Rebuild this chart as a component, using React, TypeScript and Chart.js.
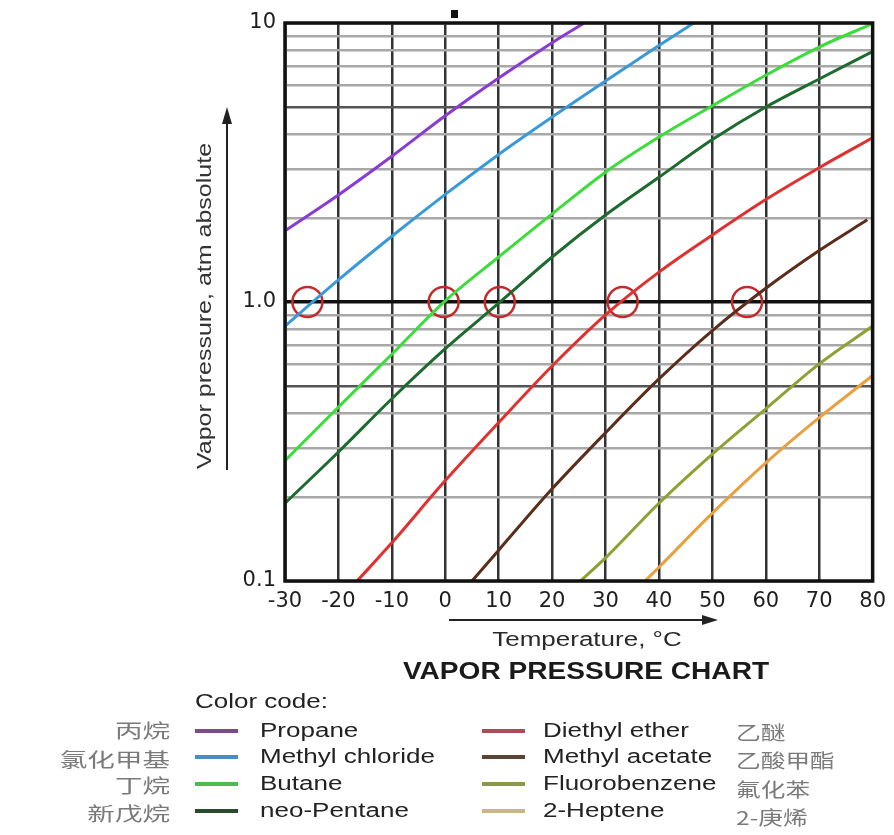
import React, { useEffect, useRef } from 'react';
import { Chart, registerables } from 'chart.js';

Chart.register(...registerables);

const W = 894;
const H = 835;

// ---------- data ----------
const seriesNames = ['Propane', 'Methyl chloride', 'Butane', 'neo-Pentane', 'Diethyl ether', 'Methyl acetate', 'Fluorobenzene', '2-Heptene'];
const seriesNamesZh = ['丙烷', '氯化甲基', '丁烷', '新戊烷', '乙醚', '乙酸甲酯', '氟化苯', '2-庚烯'];
const seriesColors = ['#8a3cd0', '#3a9ad9', '#3ddc3d', '#1d6b2e', '#e03030', '#5a2e1a', '#8fa035', '#e8a040'];
const legendColors = ['#7d4a8e', '#4d8dbd', '#4cbb4c', '#2c4a2c', '#b04a5a', '#5c4433', '#8a9a48', '#c8b888'];

const propaneT = [-30, -20, -10, 0, 10, 20, 26];
const propaneP = [1.8, 2.42, 3.33, 4.65, 6.35, 8.5, 10];
const methylChlorideT = [-30, -20, -10, 0, 10, 20, 30, 40, 46.5];
const methylChlorideP = [0.82, 1.2, 1.72, 2.43, 3.38, 4.6, 6.2, 8.3, 10];
const butaneT = [-30, -20, -10, 0, 10, 20, 30, 40, 50, 60, 70, 80];
const butaneP = [0.27, 0.42, 0.65, 1.01, 1.45, 2.07, 2.92, 3.9, 5.05, 6.5, 8.2, 9.95];
const neoPentaneT = [-30, -20, -10, 0, 10, 20, 30, 40, 50, 60, 70, 80];
const neoPentaneP = [0.19, 0.29, 0.45, 0.68, 0.99, 1.45, 2.05, 2.8, 3.82, 5.0, 6.3, 7.9];
const diethylEtherT = [-16.5, -10, 0, 10, 20, 30, 40, 50, 60, 70, 80];
const diethylEtherP = [0.1, 0.137, 0.229, 0.37, 0.59, 0.9, 1.28, 1.74, 2.33, 3.03, 3.88];
const methylAcetateT = [5, 10, 20, 30, 40, 50, 60, 70, 79];
const methylAcetateP = [0.1, 0.129, 0.214, 0.34, 0.53, 0.79, 1.12, 1.53, 1.97];
const fluorobenzeneT = [25.3, 30, 40, 50, 60, 70, 80];
const fluorobenzeneP = [0.1, 0.121, 0.19, 0.285, 0.414, 0.6, 0.82];
const heptene2T = [37.4, 40, 50, 60, 70, 80];
const heptene2P = [0.1, 0.112, 0.175, 0.265, 0.385, 0.545];

const boilingT = [-25.8, -0.3, 10.2, 33.2, 56.5];
const boilingP = [1, 1, 1, 1, 1];

const seriesT = [propaneT, methylChlorideT, butaneT, neoPentaneT, diethylEtherT, methylAcetateT, fluorobenzeneT, heptene2T];
const seriesP = [propaneP, methylChlorideP, butaneP, neoPentaneP, diethylEtherP, methylAcetateP, fluorobenzeneP, heptene2P];

const xTicks = [-30, -20, -10, 0, 10, 20, 30, 40, 50, 60, 70, 80];
const yGridValues = [0.1, 0.2, 0.3, 0.4, 0.5, 0.6, 0.7, 0.8, 0.9, 1, 2, 3, 4, 5, 6, 7, 8, 9, 10];
const yLabelValues = [0.1, 1, 10];
const yLabelTexts = ['0.1', '1.0', '10'];

const xTitle = 'Temperature, °C';
const yTitle = 'Vapor pressure, atm absolute';
const chartTitle = 'VAPOR PRESSURE CHART';
const legendTitle = 'Color code:';

// ---------- layout ----------
const AREA = { left: 285, right: 876, top: 23, bottom: 581 };
const SANS = '"Liberation Sans", Arial, sans-serif';
const CJK = '"Noto Sans CJK SC", sans-serif';

function near(a: number, b: number) {
  return Math.abs(a - b) < 1e-6 * Math.max(1, Math.abs(b));
}

function stretchText(ctx: CanvasRenderingContext2D, text: string, x: number, y: number, font: string, color: string, align: CanvasTextAlign, sx: number, rot = 0) {
  ctx.save();
  ctx.translate(x, y);
  if (rot) ctx.rotate(rot);
  ctx.scale(sx, 1);
  ctx.font = font;
  ctx.fillStyle = color;
  ctx.textAlign = align;
  ctx.textBaseline = 'middle';
  ctx.fillText(text, 0, 0);
  ctx.restore();
}

function arrow(ctx: CanvasRenderingContext2D, x1: number, y1: number, x2: number, y2: number, head: number, hw: number) {
  const ang = Math.atan2(y2 - y1, x2 - x1);
  const bx = x2 - Math.cos(ang) * head;
  const by = y2 - Math.sin(ang) * head;
  ctx.save();
  ctx.strokeStyle = '#222';
  ctx.fillStyle = '#222';
  ctx.lineWidth = 2;
  ctx.beginPath();
  ctx.moveTo(x1, y1);
  ctx.lineTo(bx, by);
  ctx.stroke();
  ctx.beginPath();
  ctx.moveTo(x2, y2);
  ctx.lineTo(bx + Math.sin(ang) * hw, by - Math.cos(ang) * hw);
  ctx.lineTo(bx - Math.sin(ang) * hw, by + Math.cos(ang) * hw);
  ctx.closePath();
  ctx.fill();
  ctx.restore();
}

const decorPlugin = {
  id: 'decor',
  afterDraw(chart: any) {
    const ctx: CanvasRenderingContext2D = chart.ctx;
    const a = chart.chartArea;
    ctx.save();
    ctx.strokeStyle = '#111';
    ctx.lineWidth = 3.5;
    ctx.strokeRect(a.left, a.top, a.right - a.left, a.bottom - a.top);
    ctx.fillStyle = '#111';
    ctx.fillRect(451, 10, 7, 8);
    ctx.restore();

    stretchText(ctx, yTitle, 205, 306, `20px ${SANS}`, '#333', 'center', 1.25, -Math.PI / 2);
    arrow(ctx, 227, 470, 227, 107, 17, 5);
    arrow(ctx, 449, 620, 718, 620, 16, 5);
    stretchText(ctx, xTitle, 587, 640, `20px ${SANS}`, '#2a2a2a', 'center', 1.3);
    stretchText(ctx, chartTitle, 586, 672, `bold 24px ${SANS}`, '#1a1a1a', 'center', 1.17);

    stretchText(ctx, legendTitle, 195, 702, `20px ${SANS}`, '#222', 'left', 1.3);
    const rowY = [731, 757, 784, 811];
    const zhLeftY = [731, 760, 786, 814];
    const zhRightY = [733, 761, 790, 818];
    for (let i = 0; i < seriesNames.length; i++) {
      const col = i < 4 ? 0 : 1;
      const r = i % 4;
      const y = rowY[r];
      const lx = col === 0 ? 195 : 482;
      ctx.save();
      ctx.strokeStyle = legendColors[i];
      ctx.lineWidth = 4;
      ctx.beginPath();
      ctx.moveTo(lx, y);
      ctx.lineTo(lx + 43, y);
      ctx.stroke();
      ctx.restore();
      stretchText(ctx, seriesNames[i], col === 0 ? 260 : 543, y, `20px ${SANS}`, '#222', 'left', 1.3);
      if (col === 0) {
        stretchText(ctx, seriesNamesZh[i], 170, zhLeftY[r], `19px ${CJK}`, '#7a7a7a', 'right', 1.45);
      } else {
        stretchText(ctx, seriesNamesZh[i], 736, zhRightY[r], `19px ${CJK}`, '#7a7a7a', 'left', 1.3);
      }
    }
  },
};

export default function App() {
  const ref = useRef<HTMLCanvasElement | null>(null);

  useEffect(() => {
    const canvas = ref.current;
    if (!canvas) return;
    const datasets: any[] = seriesNames.map((name, i) => ({
      label: name,
      data: seriesT[i].map((t, j) => ({ x: t, y: seriesP[i][j] })),
      borderColor: seriesColors[i],
      backgroundColor: seriesColors[i],
      borderWidth: 3,
      pointRadius: 0,
      fill: false,
      cubicInterpolationMode: 'monotone',
    }));
    datasets.push({
      label: 'Boiling points',
      data: boilingT.map((t, j) => ({ x: t, y: boilingP[j] })),
      showLine: false,
      pointRadius: 15,
      pointBorderWidth: 2.5,
      pointBorderColor: '#c42a2a',
      pointBackgroundColor: 'rgba(0,0,0,0)',
      borderColor: '#c42a2a',
      clip: false,
    });

    const chart = new Chart(canvas, {
      type: 'line',
      data: { datasets },
      options: {
        animation: false,
        responsive: false,
        maintainAspectRatio: false,
        layout: { padding: { left: 0, top: AREA.top, right: W - AREA.right, bottom: 0 } },
        plugins: { legend: { display: false }, tooltip: { enabled: false }, title: { display: false } },
        scales: {
          x: {
            type: 'linear',
            min: -30,
            max: 80,
            afterBuildTicks: (s: any) => {
              s.ticks = xTicks.map((v) => ({ value: v }));
            },
            afterFit: (s: any) => {
              s.height = H - AREA.bottom;
            },
            ticks: {
              autoSkip: false,
              maxRotation: 0,
              padding: 8,
              color: '#1e1e1e',
              font: { family: '"DejaVu Sans", sans-serif', size: 21 },
              callback: (v: any) => String(v),
            },
            grid: { color: '#333', lineWidth: 2.5, drawTicks: false },
            border: { display: false },
          },
          y: {
            type: 'logarithmic',
            min: 0.1,
            max: 10,
            afterBuildTicks: (s: any) => {
              s.ticks = yGridValues.map((v) => ({ value: v }));
            },
            afterFit: (s: any) => {
              s.width = AREA.left;
            },
            ticks: {
              autoSkip: false,
              padding: 9,
              color: '#1e1e1e',
              font: { family: '"DejaVu Sans", sans-serif', size: 21 },
              callback: (v: any) => {
                const k = yLabelValues.findIndex((u) => near(Number(v), u));
                return k >= 0 ? yLabelTexts[k] : '';
              },
            },
            grid: {
              drawTicks: false,
              color: (c: any) => {
                const v = c.tick ? c.tick.value : 0;
                if (near(v, 1)) return '#111';
                if (near(v, 0.5) || near(v, 5)) return '#555';
                return '#a8a8a8';
              },
              lineWidth: (c: any) => {
                const v = c.tick ? c.tick.value : 0;
                return near(v, 1) ? 3.5 : 2.5;
              },
            },
            border: { display: false },
          },
        },
      },
      plugins: [decorPlugin],
    } as any);
    return () => chart.destroy();
  }, []);

  return (
    <div style={{ position: 'fixed', left: 0, top: 0, width: W, height: H, background: '#fff' }}>
      <canvas ref={ref} width={W} height={H} style={{ display: 'block', width: W, height: H }} />
    </div>
  );
}
